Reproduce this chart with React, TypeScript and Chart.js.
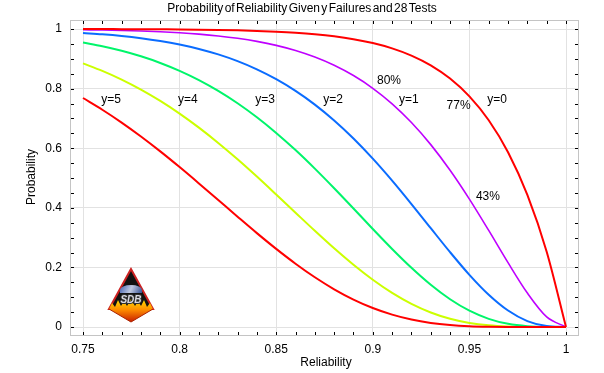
import React, { useEffect, useRef } from "react";
import { Chart, registerables } from "chart.js";

Chart.register(...registerables);

const reliability = [
  0.75, 0.76, 0.77, 0.78, 0.79, 0.8, 0.81, 0.82, 0.83, 0.84, 0.85, 0.86, 0.87,
  0.88, 0.89, 0.9, 0.91, 0.92, 0.93, 0.94, 0.95, 0.96, 0.97, 0.98, 0.99, 1.0,
];

const y0 = [
  0.9998, 0.9997, 0.9995, 0.9993, 0.9989, 0.9985, 0.9978, 0.9968, 0.9955, 0.9936,
  0.991, 0.9874, 0.9824, 0.9755, 0.9659, 0.9529, 0.9351, 0.9109, 0.8781, 0.8338,
  0.7741, 0.6939, 0.5866, 0.4434, 0.2528, 0,
];
const y1 = [
  0.9975, 0.9965, 0.9951, 0.9932, 0.9906, 0.9872, 0.9827, 0.9767, 0.9688, 0.9585,
  0.9451, 0.9279, 0.906, 0.8784, 0.8438, 0.8011, 0.749, 0.6862, 0.612, 0.5261,
  0.4292, 0.324, 0.2158, 0.114, 0.034, 0,
];
const y2 = [
  0.9867, 0.9823, 0.9766, 0.9692, 0.9598, 0.948, 0.9331, 0.9147, 0.8921, 0.8646,
  0.8316, 0.7923, 0.7463, 0.6931, 0.6326, 0.565, 0.4913, 0.4127, 0.3316, 0.2511,
  0.1751, 0.1083, 0.0553, 0.0199, 0.003, 0,
];
const y3 = [
  0.9545, 0.9421, 0.9268, 0.9083, 0.8861, 0.8596, 0.8285, 0.7923, 0.7508, 0.7038,
  0.6513, 0.5937, 0.5314, 0.4656, 0.3976, 0.329, 0.2619, 0.1987, 0.1417, 0.0931,
  0.0547, 0.0274, 0.0106, 0.0026, 0.0002, 0,
];
const y4 = [
  0.8847, 0.8595, 0.8303, 0.7967, 0.7587, 0.7161, 0.669, 0.6177, 0.5627, 0.5047,
  0.4445, 0.3835, 0.3228, 0.264, 0.2088, 0.1585, 0.1144, 0.0777, 0.0488, 0.0276,
  0.0136, 0.0055, 0.0016, 0.0003, 0.0, 0,
];
const y5 = [
  0.7684, 0.7291, 0.686, 0.6393, 0.5893, 0.5366, 0.4819, 0.426, 0.3701, 0.315,
  0.2621, 0.2124, 0.1669, 0.1266, 0.0921, 0.0637, 0.0415, 0.0251, 0.0138, 0.0067,
  0.0027, 0.0009, 0.0002, 0.0, 0.0, 0,
];

const xTickValues = [0.75, 0.8, 0.85, 0.9, 0.95, 1];
const xTickLabels = ["0.75", "0.8", "0.85", "0.9", "0.95", "1"];
const yTickValues = [0, 0.2, 0.4, 0.6, 0.8, 1];
const yTickLabels = ["0", "0.2", "0.4", "0.6", "0.8", "1"];

const annotationTexts = ["y=5", "y=4", "y=3", "y=2", "y=1", "y=0", "80%", "77%", "43%"];
const annotationX = [0.7645, 0.8043, 0.8442, 0.8794, 0.9187, 0.9643, 0.9084, 0.9444, 0.9596];
const annotationY = [0.762, 0.762, 0.762, 0.762, 0.762, 0.762, 0.827, 0.743, 0.437];

const titleText = "Probability of Reliability Given y Failures and 28 Tests";
const xTitle = "Reliability";
const yTitle = "Probability";

const FONT = '"Liberation Sans", Arial, Helvetica, sans-serif';

const series = [
  { label: "y=5", data: y5, color: "#ff0000", width: 2 },
  { label: "y=0", data: y0, color: "#ff0000", width: 2 },
  { label: "y=1", data: y1, color: "#bf00ff", width: 1.6 },
  { label: "y=2", data: y2, color: "#0a6cff", width: 2 },
  { label: "y=3", data: y3, color: "#00f56a", width: 2 },
  { label: "y=4", data: y4, color: "#ccff00", width: 2 },
];

const decorPlugin = {
  id: "decor",
  beforeDraw(chart: any) {
    const ctx = chart.ctx;
    ctx.save();
    ctx.fillStyle = "#ffffff";
    ctx.fillRect(0, 0, chart.width, chart.height);
    ctx.restore();
  },
  afterDraw(chart: any) {
    const ctx = chart.ctx;
    const xs = chart.scales.x;
    const ys = chart.scales.y;
    const { left, right, top, bottom } = chart.chartArea;
    ctx.save();
    // box
    ctx.strokeStyle = "#c4c4c4";
    ctx.lineWidth = 1;
    ctx.strokeRect(Math.round(left) - 0.5, Math.round(top) - 0.5, Math.round(right - left) + 1, Math.round(bottom - top) + 1);
    // inward ticks
    ctx.strokeStyle = "#000000";
    ctx.lineWidth = 1;
    ctx.beginPath();
    for (let i = 0; i <= 25; i++) {
      const v = 0.75 + i * 0.01;
      const px = Math.round(xs.getPixelForValue(v)) + 0.5;
      ctx.moveTo(px, bottom);
      ctx.lineTo(px, bottom - 3);
      ctx.moveTo(px, top);
      ctx.lineTo(px, top + 3);
    }
    for (let i = 0; i <= 20; i++) {
      const v = i * 0.05;
      const py = Math.round(ys.getPixelForValue(v)) + 0.5;
      ctx.moveTo(left, py);
      ctx.lineTo(left + 3, py);
      ctx.moveTo(right, py);
      ctx.lineTo(right - 3, py);
    }
    ctx.stroke();

    // texts
    ctx.fillStyle = "#000000";
    ctx.textAlign = "center";
    ctx.textBaseline = "middle";
    ctx.font = "12px " + FONT;
    try { (ctx as any).wordSpacing = "-2px"; } catch (e) {}
    ctx.fillText(titleText, 302, 9);
    try { (ctx as any).wordSpacing = "0px"; } catch (e) {}
    ctx.fillText(xTitle, 326, 363);
    ctx.save();
    ctx.translate(32, 177);
    ctx.rotate(-Math.PI / 2);
    ctx.fillText(yTitle, 0, 0);
    ctx.restore();

    for (let i = 0; i < annotationTexts.length; i++) {
      ctx.fillText(
        annotationTexts[i],
        xs.getPixelForValue(annotationX[i]),
        ys.getPixelForValue(annotationY[i])
      );
    }

    // logo
    const cx = 131;
    ctx.beginPath();
    ctx.moveTo(cx, 269);
    ctx.lineTo(109, 309);
    ctx.lineTo(153, 309);
    ctx.closePath();
    ctx.fillStyle = "#111111";
    ctx.fill();
    ctx.strokeStyle = "#cc2222";
    ctx.lineWidth = 2;
    ctx.stroke();
    // flames
    const g = ctx.createLinearGradient(0, 299, 0, 322);
    g.addColorStop(0, "#ffe000");
    g.addColorStop(0.45, "#ff9000");
    g.addColorStop(1, "#c81e00");
    ctx.beginPath();
    ctx.moveTo(109, 309);
    const flamePts = [
      [112, 303], [115, 307], [118, 300], [121, 306], [124, 301], [127, 306],
      [131, 299], [135, 306], [138, 301], [141, 306], [144, 300], [147, 307], [150, 303],
    ];
    for (const p of flamePts) ctx.lineTo(p[0], p[1]);
    ctx.lineTo(153, 309);
    ctx.lineTo(cx, 322);
    ctx.closePath();
    ctx.fillStyle = g;
    ctx.fill();
    ctx.strokeStyle = "#aa2200";
    ctx.lineWidth = 1;
    ctx.beginPath();
    ctx.moveTo(109, 309);
    ctx.lineTo(cx, 322);
    ctx.lineTo(153, 309);
    ctx.stroke();
    // earth
    const eg = ctx.createLinearGradient(120, 284, 142, 294);
    eg.addColorStop(0, "#4060b0");
    eg.addColorStop(0.5, "#c0c8e0");
    eg.addColorStop(1, "#304c90");
    ctx.beginPath();
    ctx.ellipse(cx, 290, 11, 5, 0, Math.PI, 2 * Math.PI);
    ctx.lineTo(cx + 11, 293);
    ctx.lineTo(cx - 11, 293);
    ctx.closePath();
    ctx.fillStyle = eg;
    ctx.fill();
    // SDB
    ctx.font = "italic bold 10px " + FONT;
    ctx.textAlign = "center";
    ctx.textBaseline = "middle";
    ctx.lineWidth = 2;
    ctx.strokeStyle = "#303030";
    ctx.strokeText("SDB", cx, 300);
    ctx.fillStyle = "#d8d8e0";
    ctx.fillText("SDB", cx, 300);
    ctx.restore();
  },
};

export default function App() {
  const canvasRef = useRef<HTMLCanvasElement | null>(null);

  useEffect(() => {
    const canvas = canvasRef.current;
    if (!canvas) return;
    const datasets = series.map((s) => ({
      label: s.label,
      data: reliability.map((r, i) => ({ x: r, y: s.data[i] })),
      borderColor: s.color,
      backgroundColor: s.color,
      borderWidth: s.width,
      pointRadius: 0,
      fill: false,
      cubicInterpolationMode: "monotone" as const,
    }));
    const chart = new Chart(canvas, {
      type: "line",
      data: { datasets },
      plugins: [decorPlugin],
      options: {
        responsive: false,
        animation: false,
        events: [],
        layout: { padding: { left: 0, right: 26, top: 21, bottom: 0 } },
        plugins: {
          legend: { display: false },
          tooltip: { enabled: false },
          title: { display: false },
        },
        scales: {
          x: {
            type: "linear",
            min: 0.75 - 12 / 1932,
            max: 1 + 12 / 1932,
            afterFit: (scale: any) => {
              scale.height = 38;
            },
            afterBuildTicks: (scale: any) => {
              scale.ticks = xTickValues.map((v) => ({ value: v }));
            },
            border: { display: false },
            grid: { color: "#e2e2e2", lineWidth: 1, drawTicks: false },
            ticks: {
              padding: 7,
              color: "#000000",
              font: { family: FONT, size: 12 },
              maxRotation: 0,
              autoSkip: false,
              callback: (_v: any, i: number) => xTickLabels[i],
            },
          },
          y: {
            type: "linear",
            min: -8 / 298,
            max: 1 + 8 / 298,
            afterFit: (scale: any) => {
              scale.width = 71;
            },
            afterBuildTicks: (scale: any) => {
              scale.ticks = yTickValues.map((v) => ({ value: v }));
            },
            border: { display: false },
            grid: { color: "#e2e2e2", lineWidth: 1, drawTicks: false },
            ticks: {
              padding: 9,
              color: "#000000",
              font: { family: FONT, size: 12 },
              autoSkip: false,
              callback: (_v: any, i: number) => yTickLabels[i],
            },
          },
        },
      },
    });
    return () => chart.destroy();
  }, []);

  return (
    <div style={{ position: "fixed", left: 0, top: 0, width: 604, height: 373, background: "#fff" }}>
      <canvas ref={canvasRef} width={604} height={373} style={{ display: "block", width: 604, height: 373 }} />
    </div>
  );
}
